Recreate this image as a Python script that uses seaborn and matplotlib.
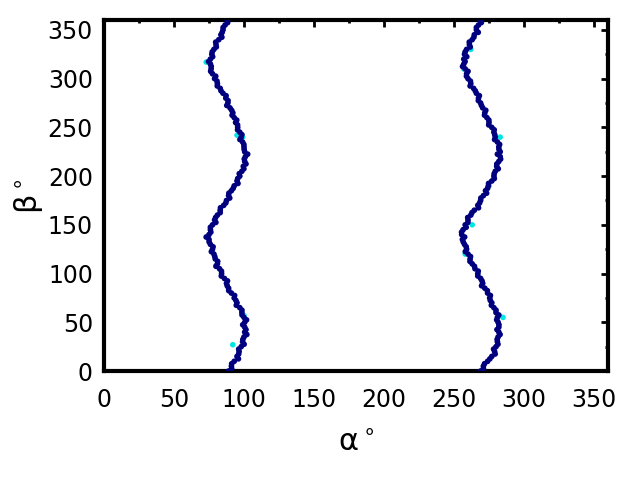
import matplotlib
matplotlib.use("Agg")
import matplotlib.pyplot as plt
from matplotlib.ticker import MultipleLocator
import seaborn as sns
import pandas as pd

# main strand, beta every 5 deg
beta_a = [0, 5, 10, 15, 20, 25, 30, 35, 40, 45, 50, 55, 60, 65, 70, 75, 80, 85, 90, 95,
          100, 105, 110, 115, 120, 125, 130, 135, 140, 145, 150, 155, 160, 165, 170, 175,
          180, 185, 190, 195, 200, 205, 210, 215, 220, 225, 230, 235, 240, 245, 250, 255,
          260, 265, 270, 275, 280, 285, 290, 295, 300, 305, 310, 315, 320, 325, 330, 335,
          340, 345, 350, 355, 360]
alpha_1 = [89, 91, 93, 95, 96.5, 98, 99, 100, 100.5, 100.5, 100.5, 100, 98.5, 97, 95, 93,
           91, 89, 87.5, 86, 84, 82.5, 81, 79.5, 78.5, 77.5, 76, 75, 75, 76, 77.5, 79, 81,
           83, 85.5, 87.5, 89, 91, 93, 95, 97, 98.5, 99.5, 100.5, 101, 100.5, 100, 99, 98,
           97, 95.5, 94, 93, 92, 90, 88.5, 87, 85, 83, 81, 79, 77.5, 76.5, 76, 76, 77, 78.5,
           80, 82, 83.5, 85, 86.5, 88]
alpha_2 = [269, 271, 274, 277, 279, 280, 281, 281.5, 282, 282, 281.5, 281, 280, 278.5, 277,
           275.5, 274, 272, 270.5, 269, 267, 265, 263, 261.5, 260, 259, 257.5, 256, 255.5,
           256.5, 258, 260, 262, 264.5, 267, 269, 271, 272.5, 274.5, 277, 278.5, 279.5,
           280.5, 282, 283, 283, 282, 281, 279.5, 278.5, 277, 275, 273.5, 272, 270.5, 269,
           267.5, 266, 264, 262, 260, 259, 258, 257, 257, 257.5, 259, 261, 263, 264.5, 266,
           267.5, 269]

# second, scattered strand in between
beta_b = [2.5, 7.5, 12.5, 17.5, 22.5, 27.5, 32.5, 37.5, 42.5, 47.5, 52.5, 57.5, 62.5, 67.5,
          72.5, 77.5, 82.5, 87.5, 92.5, 97.5, 102.5, 107.5, 112.5, 117.5, 122.5, 127.5,
          132.5, 137.5, 142.5, 147.5, 152.5, 157.5, 162.5, 167.5, 172.5, 177.5, 182.5,
          187.5, 192.5, 197.5, 202.5, 207.5, 212.5, 217.5, 222.5, 227.5, 232.5, 237.5,
          242.5, 247.5, 252.5, 257.5, 262.5, 267.5, 272.5, 277.5, 282.5, 287.5, 292.5,
          297.5, 302.5, 307.5, 312.5, 317.5, 322.5, 327.5, 332.5, 337.5, 342.5, 347.5,
          352.5, 357.5]
alpha_1b = [91.2, 91.2, 96, 96.2, 96.2, 100.1, 99.2, 102, 101.4, 99.1, 101.8, 98.6, 98.5,
            94.5, 94.2, 93.3, 89.1, 88, 88.2, 83.8, 83.9, 80, 81.2, 79.1, 76.7, 77.9, 75.1,
            73, 76.3, 76, 79.9, 79.7, 83, 83.2, 87, 89.8, 89.2, 92.3, 95.7, 95.5, 96.6,
            99.9, 101.4, 100.2, 102.6, 100.1, 99.9, 97.1, 98.5, 95.4, 95.4, 94.8, 91.5,
            91.2, 87.7, 88.6, 87.2, 83.6, 80.9, 80.7, 79.8, 76.2, 76.6, 74.7, 77.6, 77.3,
            80.2, 79.8, 84.2, 84.4, 85.1, 88.3]
alpha_2b = [271, 271.8, 275.6, 279.4, 278.3, 281.4, 280.8, 282.9, 280.7, 282.1, 280.5, 282,
            280, 276.7, 275.9, 276, 273.8, 269.7, 270, 267, 267.3, 264.6, 261.4, 261.8,
            258.1, 258.7, 256.6, 257.6, 255.4, 258.7, 259.9, 259.8, 262.8, 267.5, 268.3,
            269.2, 273.3, 274, 274.7, 278.8, 278.7, 281.6, 280.6, 283.3, 281, 282.1, 282.6,
            279, 279.1, 278.7, 274.8, 274.9, 271.8, 272.7, 269.6, 267.4, 268.1, 265.2,
            261.5, 261.7, 258.9, 260, 256.1, 257.9, 259.1, 258, 261.6, 260.9, 264.2, 267.3,
            266, 269.5]

# a few lighter (cyan) points
alpha_c = [95, 99, 80, 92, 100, 73, 92, 262, 258, 283, 282, 285, 258, 257, 263, 275]
beta_c = [242, 240, 108, 27, 57, 317, 263, 330, 327, 240, 57, 55, 120, 310, 150, 190]

df = pd.DataFrame({
    "alpha": alpha_1 + alpha_2 + alpha_1b + alpha_2b,
    "beta": beta_a + beta_a + beta_b + beta_b,
})
dfc = pd.DataFrame({"alpha": alpha_c, "beta": beta_c})

sns.set_style("white")
plt.rcParams['font.family'] = ['DejaVu Sans']
for k in ["text.color", "axes.labelcolor", "xtick.color", "ytick.color"]:
    plt.rcParams[k] = "black"

fig, ax = plt.subplots(figsize=(6.4, 4.8), dpi=100)
fig.subplots_adjust(left=0.1625, right=0.95, bottom=0.227, top=0.958)

sns.scatterplot(data=dfc, x="alpha", y="beta", color="#00e5e5", s=16,
                edgecolor="none", ax=ax, zorder=2)
sns.scatterplot(data=df, x="alpha", y="beta", color="#00007f", s=17,
                edgecolor="none", ax=ax, zorder=3)

ax.set_xlim(0, 360)
ax.set_ylim(0, 360)
ax.xaxis.set_major_locator(MultipleLocator(50))
ax.yaxis.set_major_locator(MultipleLocator(50))
ax.xaxis.set_minor_locator(MultipleLocator(25))
ax.yaxis.set_minor_locator(MultipleLocator(25))
ax.tick_params(which="both", direction="in", top=True, right=True, labelsize=17,
               color="black", width=2)
ax.tick_params(which="major", length=5)
ax.tick_params(which="minor", length=2.5)
ax.tick_params(axis="x", which="major", pad=12)
ax.tick_params(axis="y", which="major", pad=8)
for sp in ax.spines.values():
    sp.set_linewidth(3)
    sp.set_color("black")

ax.set_xlabel(r"α$^\circ$", fontsize=22, labelpad=12)
ax.set_ylabel(r"β$^\circ$", fontsize=22, labelpad=2)

fig.savefig("out.png", dpi=100)
